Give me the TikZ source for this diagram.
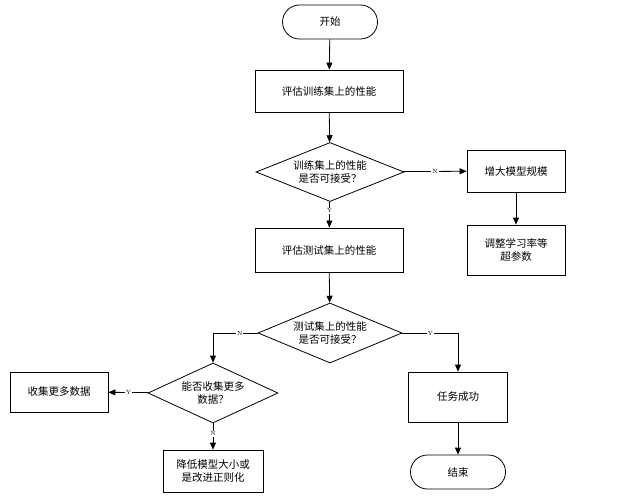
\documentclass[tikz,border=0pt]{standalone}
\usepackage{fontspec}
\newfontfamily\cjk{Noto Sans CJK SC}
\usetikzlibrary{shapes.geometric,arrows.meta}
\begin{document}
\begin{tikzpicture}[x=1pt,y=-1pt,
  every node/.style={font=\cjk\fontsize{10.5}{13}\selectfont},
  box/.style={draw,line width=0.8pt,minimum width=98pt,align=center,inner sep=2pt},
  term/.style={draw,line width=0.8pt,rounded corners=17pt,minimum width=95pt,minimum height=34pt},
  dia/.style={draw,line width=0.8pt,diamond,aspect=2.5,inner sep=0pt,align=center},
  arr/.style={draw,line width=0.8pt,-{Triangle[length=7pt,width=6pt]}},
  lab/.style={fill=white,inner sep=1pt,font=\rmfamily\fontsize{6}{7}\selectfont}]
\useasboundingbox (0,0) rectangle (623,500);
\node[term] (start) at (330,22) {开始};
\node[box,minimum width=148pt,minimum height=42pt] (b1) at (329,91) {评估训练集上的性能};
\node[dia,minimum width=148pt,minimum height=59pt] (d1) at (330,172) {训练集上的性能\\是否可接受？};
\node[box,minimum height=42pt] (inc) at (516,171) {增大模型规模};
\node[box,minimum height=50pt] (tune) at (516,250) {调整学习率等\\超参数};
\node[box,minimum width=148pt,minimum height=44pt] (b2) at (329,250) {评估测试集上的性能};
\node[dia,minimum width=144pt,minimum height=60pt] (d2) at (330,333) {测试集上的性能\\是否可接受？};
\node[dia,minimum width=130pt,minimum height=60pt] (d3) at (213,393) {能否收集更多\\数据？};
\node[box,minimum height=40pt] (more) at (59,392) {收集更多数据};
\node[box,minimum width=100pt,minimum height=42pt] (red) at (213,471) {降低模型大小或\\是改进正则化};
\node[box,minimum width=99pt,minimum height=50pt] (succ) at (458,397) {任务成功};
\node[term] (end) at (458,472) {结束};
\draw[arr] (start) -- (b1);
\draw[arr] (b1) -- (d1);
\draw[arr] (d1) -- node[lab]{N} (inc);
\draw[arr] (inc) -- (tune);
\draw[arr] (d1) -- node[lab,pos=0.35]{Y} (b2);
\draw[arr] (b2) -- (d2);
\draw[arr] (d2.west) -- node[lab,pos=0.4]{N} (d3.north |- d2.west) -- (d3.north);
\draw[arr] (d2.east) -- node[lab,pos=0.5]{Y} (succ.north |- d2.east) -- (succ.north);
\draw[arr] (d3) -- node[lab]{Y} (more);
\draw[arr] (d3) -- node[lab,pos=0.4]{N} (red);
\draw[arr] (succ) -- (end);
\end{tikzpicture}
\end{document}
